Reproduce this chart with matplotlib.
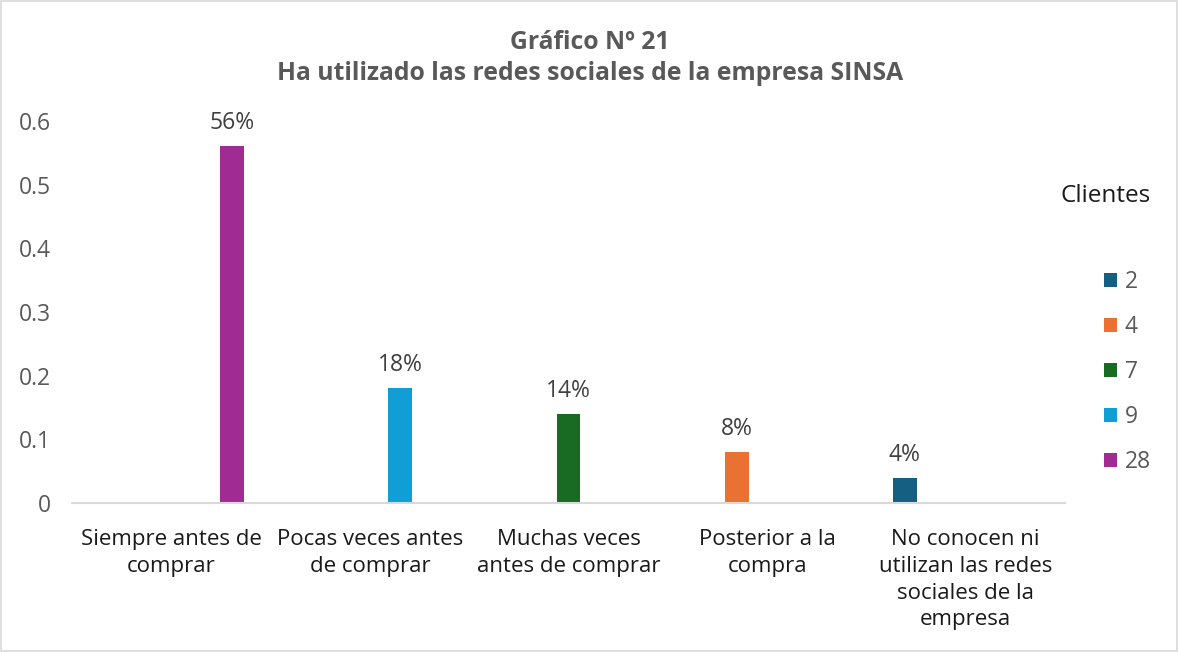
import matplotlib
matplotlib.use("Agg")
import matplotlib.pyplot as plt
from matplotlib.patches import Rectangle, Patch
import numpy as np

plt.rcParams['font.family'] = ['Open Sans', 'DejaVu Sans']

categories = ["Siempre antes de\ncomprar", "Pocas veces antes\nde comprar",
              "Muchas veces\nantes de comprar", "Posterior a la\ncompra",
              "No conocen ni\nutilizan las redes\nsociales de la\nempresa"]
series_names = ["2", "4", "7", "9", "28"]
s2 = [0, 0, 0, 0, 0.04]
s4 = [0, 0, 0, 0.08, 0]
s7 = [0, 0, 0.14, 0, 0]
s9 = [0, 0.18, 0, 0, 0]
s28 = [0.56, 0, 0, 0, 0]
series_values = [s2, s4, s7, s9, s28]
colors = ["#156082", "#E97132", "#196B24", "#0F9ED5", "#A02B93"]
yticks = [0, 0.1, 0.2, 0.3, 0.4, 0.5, 0.6]
ytick_labels = ["0", "0.1", "0.2", "0.3", "0.4", "0.5", "0.6"]

W, H = 1178, 652
fig = plt.figure(figsize=(W / 100, H / 100), dpi=100)
fig.patch.set_facecolor("white")
fig.add_artist(Rectangle((0.001, 0.001), 0.998, 0.997, transform=fig.transFigure,
                         fill=False, edgecolor="#d9d9d9", linewidth=1.2))

left, right, bottom, top = 72, 1065, 503, 121
ax = fig.add_axes([left / W, 1 - bottom / H, (right - left) / W, (bottom - top) / H])

x = np.arange(len(categories))
slot = 0.153
bw = 0.12
n = len(series_names)
for i, (name, vals, c) in enumerate(zip(series_names, series_values, colors)):
    pos = x + (i - (n - 1) / 2) * slot
    bars = ax.bar(pos, vals, width=bw, color=c, label=name)
    for b, v in zip(bars, vals):
        if v > 0:
            ax.annotate(f"{v*100:.0f}%", (b.get_x() + b.get_width() / 2, v),
                        xytext=(0, 23), textcoords="offset pixels",
                        ha="center", va="center", fontsize=16.5, color="#404040")

ax.set_xlim(-0.5, len(categories) - 0.5)
ax.set_ylim(0, 0.6)
ax.set_yticks(yticks)
ax.set_yticklabels(ytick_labels, fontsize=16.5, color="#595959")
ax.set_xticks(x)
ax.set_xticklabels(categories, fontsize=16, color="#1a1a1a", linespacing=1.35)
ax.tick_params(axis="both", length=0)
ax.tick_params(axis="y", pad=15)
ax.tick_params(axis="x", pad=19)
for s in ["top", "right", "left"]:
    ax.spines[s].set_visible(False)
ax.spines["bottom"].set_color("#d9d9d9")
ax.spines["bottom"].set_linewidth(1.5)

fig.text(590 / W, 1 - 58 / H, "Gráfico Nº 21\nHa utilizado las redes sociales de la empresa SINSA",
         ha="center", va="center", fontsize=17.8, fontweight="bold", color="#595959",
         linespacing=1.3)

fig.text(1106 / W, 1 - 196 / H, "Clientes", ha="center", va="center",
         fontsize=17.5, color="#1a1a1a")

handles = [Patch(facecolor=c, edgecolor="none") for c in colors]
leg = fig.legend(handles, series_names, loc="upper left",
                 bbox_to_anchor=(1104 / W, 1 - 270 / H), frameon=False,
                 fontsize=16.5, labelspacing=0.92, handlelength=0.55, handleheight=0.55,
                 handletextpad=0.35, borderaxespad=0, borderpad=0)
for t in leg.get_texts():
    t.set_color("#595959")

fig.savefig("out.png", dpi=100)
